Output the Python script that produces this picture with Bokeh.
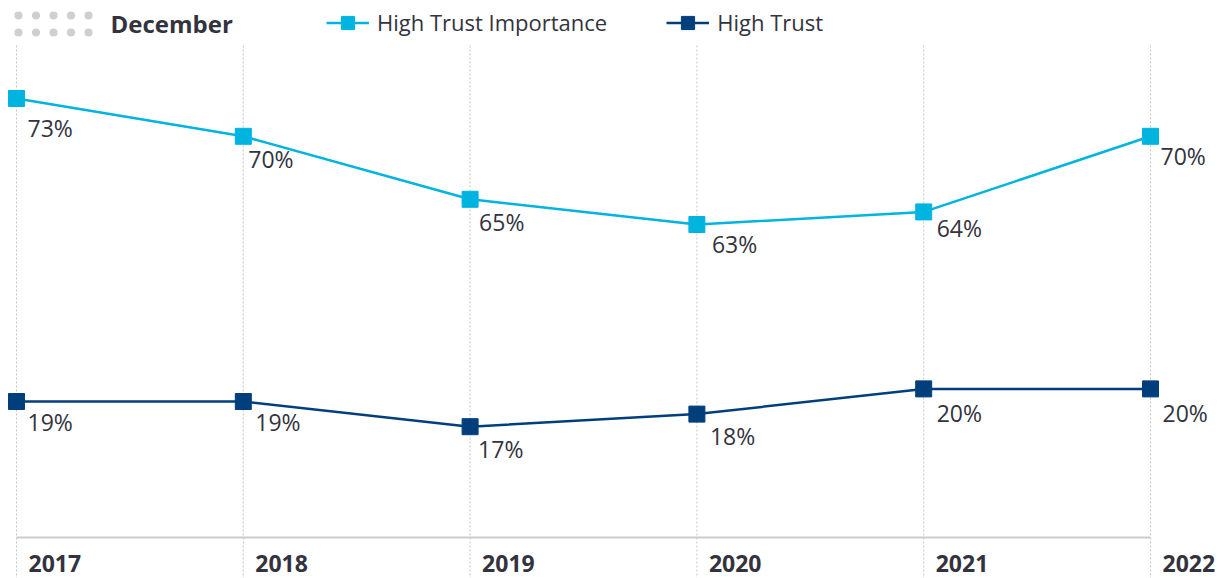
from bokeh.plotting import figure
from bokeh.models import Range1d, Label, Legend, LegendItem, ColumnDataSource
from bokeh.embed import file_html
from bokeh.resources import INLINE
from bokeh.core.properties import value

# ---------------- data ----------------
years = [2017, 2018, 2019, 2020, 2021, 2022]
tick_labels = ["2017", "2018", "2019", "2020", "2021", "2022"]
high_trust_importance = [73, 70, 65, 63, 64, 70]
high_trust = [19, 19, 17, 18, 20, 20]
series_names = ["High Trust Importance", "High Trust"]
period_label = "December"

# ---------------- style ----------------
W, H = 1227, 578
PX_PER_YEAR = 226.8
PX_PER_PCT = 12.6
LIGHT = "#00b4e0"
DARK = "#003f7c"
TEXT = "#33333e"
GRID = "#c4c4c4"
FONT = "Open Sans"

# label offsets (screen px) per point
hti_dx = [11, 5, 9, 15, 13, 10]
hti_dy = [29, 23, 23, 19, 16, 20]
ht_dx = [11, 12, 8, 13, 13, 12]
ht_dy = [20, 20, 22, 22, 24, 24]

x0 = years[0] - 16 / PX_PER_YEAR
top_main = 73 + 98 / PX_PER_PCT
top_ht = 19 + 401 / PX_PER_PCT

p = figure(width=W, height=H, output_backend="svg", toolbar_location=None,
           x_range=Range1d(x0, x0 + W / PX_PER_YEAR),
           y_range=Range1d(top_main - H / PX_PER_PCT, top_main),
           x_axis_type=None, y_axis_type=None, min_border=0)
p.extra_y_ranges = {"ht": Range1d(top_ht - H / PX_PER_PCT, top_ht)}
p.grid.visible = False
p.outline_line_color = None
p.background_fill_color = "white"
p.border_fill_color = "white"

def ht_y(fig_px):
    return top_ht - fig_px / PX_PER_PCT

GRID_TOP = ht_y(45)
GRID_BOTTOM = ht_y(H + 5)
AXIS_Y = ht_y(537)

# vertical dotted gridlines
p.segment(x0=years, y0=[GRID_TOP] * len(years), x1=years, y1=[GRID_BOTTOM] * len(years),
          y_range_name="ht", line_color=GRID, line_width=1, line_dash="2 2")

# baseline
p.line(x=[years[0], years[-1]], y=[AXIS_Y, AXIS_Y], y_range_name="ht",
       line_color="#cccccc", line_width=2)

# x tick labels
p.text(x=years, y=[AXIS_Y] * len(years), text=tick_labels, y_range_name="ht",
       x_offset=12, y_offset=26, text_baseline="middle", text_align="left",
       text_font=value(FONT), text_font_style="bold", text_font_size="23px",
       text_color=TEXT)

# series
l1 = p.line(years, high_trust_importance, line_color=LIGHT, line_width=2.5)
s1 = p.scatter(years, high_trust_importance, marker="square", size=16,
               fill_color=LIGHT, line_color=LIGHT)
l2 = p.line(years, high_trust, line_color=DARK, line_width=2.5, y_range_name="ht")
s2 = p.scatter(years, high_trust, marker="square", size=16,
               fill_color=DARK, line_color=DARK, y_range_name="ht")

src1 = ColumnDataSource(dict(x=years, y=high_trust_importance,
                             t=[f"{v}%" for v in high_trust_importance],
                             dx=hti_dx, dy=hti_dy))
p.text(x="x", y="y", text="t", x_offset="dx", y_offset="dy", source=src1,
       text_baseline="middle", text_align="left", text_font=value(FONT),
       text_font_size="23px", text_color=TEXT)
src2 = ColumnDataSource(dict(x=years, y=high_trust,
                             t=[f"{v}%" for v in high_trust],
                             dx=ht_dx, dy=ht_dy))
p.text(x="x", y="y", text="t", x_offset="dx", y_offset="dy", source=src2,
       y_range_name="ht", text_baseline="middle", text_align="left",
       text_font=value(FONT), text_font_size="23px", text_color=TEXT)

# legend
legend = Legend(items=[LegendItem(label=series_names[0], renderers=[l1, s1]),
                       LegendItem(label=series_names[1], renderers=[l2, s2])],
                orientation="horizontal", location=(326, H - 38.5),
                glyph_width=43, glyph_height=33, label_standoff=8, spacing=59,
                padding=0, margin=0, border_line_color=None,
                background_fill_alpha=0, label_text_font=FONT,
                label_text_font_size="22px", label_text_color=TEXT,
                label_text_baseline="middle")
p.add_layout(legend)

# header: dot icon + period label
dot_x = [x0 + px / PX_PER_YEAR for px in [18, 35.5, 53, 70.5, 88] * 2]
dot_y = [ht_y(py) for py in [15] * 5 + [32] * 5]
p.scatter(dot_x, dot_y, y_range_name="ht", marker="circle", size=8,
          fill_color="#cfcfcf", line_color=None)
p.add_layout(Label(x=110, y=H - 23, x_units="screen", y_units="screen",
                   text=period_label, text_font=FONT, text_font_style="bold",
                   text_font_size="24px", text_color=TEXT, text_baseline="middle"))

open("out.html", "w").write(file_html(p, INLINE))
